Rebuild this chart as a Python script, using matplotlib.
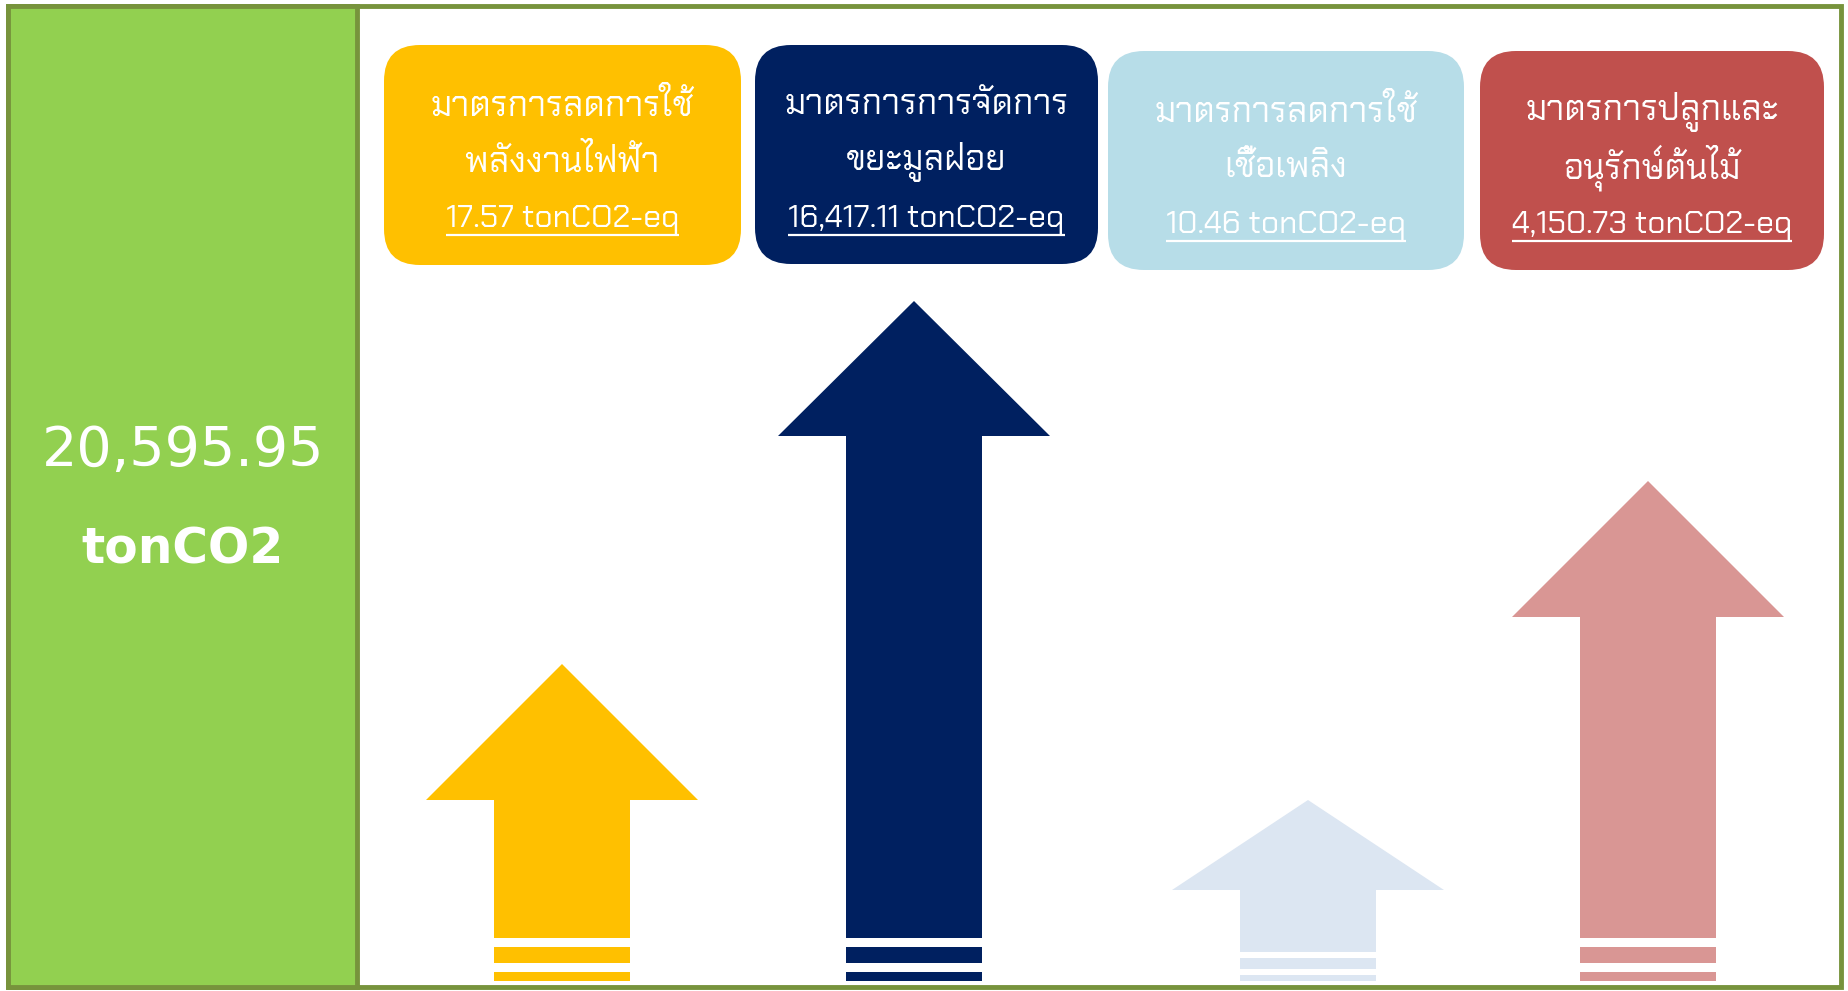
import matplotlib
matplotlib.use("Agg")
import matplotlib.pyplot as plt
from matplotlib.patches import FancyBboxPatch, Polygon, Rectangle

# measures and their reductions (tonCO2-eq)
titles = [
    ["มาตรการลดการใช้", "พลังงานไฟฟ้า"],
    ["มาตรการการจัดการ", "ขยะมูลฝอย"],
    ["มาตรการลดการใช้", "เชื้อเพลิง"],
    ["มาตรการปลูกและ", "อนุรักษ์ต้นไม้"],
]
values = [17.57, 16417.11, 10.46, 4150.73]
total = 20595.95
unit = "tonCO2-eq"

box_colors = ["#FFC000", "#002060", "#B7DDE8", "#C0504D"]
arrow_colors = ["#FFC000", "#002060", "#DCE6F2", "#D99694"]

W, H = 1849, 991
fig = plt.figure(figsize=(W / 100, H / 100), dpi=100)
ax = fig.add_axes([0, 0, 1, 1])
ax.set_xlim(0, W)
ax.set_ylim(H, 0)
ax.axis("off")

thai = ["Chakra Petch", "DejaVu Sans"]
border = "#77933C"

# outer frame and the green total panel
ax.add_patch(Rectangle((8, 6), 1833, 981, fc="white", ec=border, lw=3.5))
ax.add_patch(Rectangle((8, 6), 349, 981, fc="#92D050", ec=border, lw=3.5))
ax.text(183, 451, f"{total:,.2f}", color="white", fontsize=40,
        ha="center", va="center", family="DejaVu Sans")
ax.text(183, 550, "tonCO2", color="white", fontsize=35, fontweight="bold",
        ha="center", va="center", family="DejaVu Sans")

# boxes: left, top, width, height
boxes = [(384, 45, 357, 220), (755, 45, 343, 219),
         (1108, 51, 356, 219), (1480, 51, 344, 219)]

# arrows: centre x, tip y, head base y, head half width, shaft half width,
#         shaft bottom, first stripe (top, bottom), second stripe (top, bottom)
arrows = [
    (562, 664, 800, 136, 68, 938, (947, 963), (972, 981)),
    (914, 301, 436, 136, 68, 938, (947, 963), (972, 981)),
    (1308, 800, 890, 136, 68, 952, (958, 969), (975, 981)),
    (1648, 481, 617, 136, 68, 938, (947, 963), (972, 981)),
]

renderer = fig.canvas.get_renderer()

for i in range(len(values)):
    x0, y0, bw, bh = boxes[i]
    ax.add_patch(FancyBboxPatch((x0, y0), bw, bh,
                                boxstyle="round,pad=0,rounding_size=36",
                                fc=box_colors[i], ec="none"))
    cx = x0 + bw / 2
    ax.text(cx, y0 + 61, titles[i][0], color="white", fontsize=25,
            ha="center", va="center", family=thai)
    ax.text(cx, y0 + 117, titles[i][1], color="white", fontsize=25,
            ha="center", va="center", family=thai)
    t = ax.text(cx, y0 + 174, f"{values[i]:,.2f} {unit}", color="white",
                fontsize=23, ha="center", va="center", family=thai)
    bb = t.get_window_extent(renderer)
    uy = H - bb.y0 + 1
    ax.plot([bb.x0, bb.x1], [uy, uy], color="white", lw=1.6,
            solid_capstyle="butt")

    ax_c, tip, base, hw, sw, bottom, s1, s2 = arrows[i]
    shape = [(ax_c, tip), (ax_c + hw, base), (ax_c + sw, base),
             (ax_c + sw, bottom), (ax_c - sw, bottom), (ax_c - sw, base),
             (ax_c - hw, base)]
    ax.add_patch(Polygon(shape, closed=True, fc=arrow_colors[i], ec="none"))
    for top, bot in (s1, s2):
        ax.add_patch(Rectangle((ax_c - sw, top), 2 * sw, bot - top,
                               fc=arrow_colors[i], ec="none"))

fig.savefig("out.png", dpi=100)
